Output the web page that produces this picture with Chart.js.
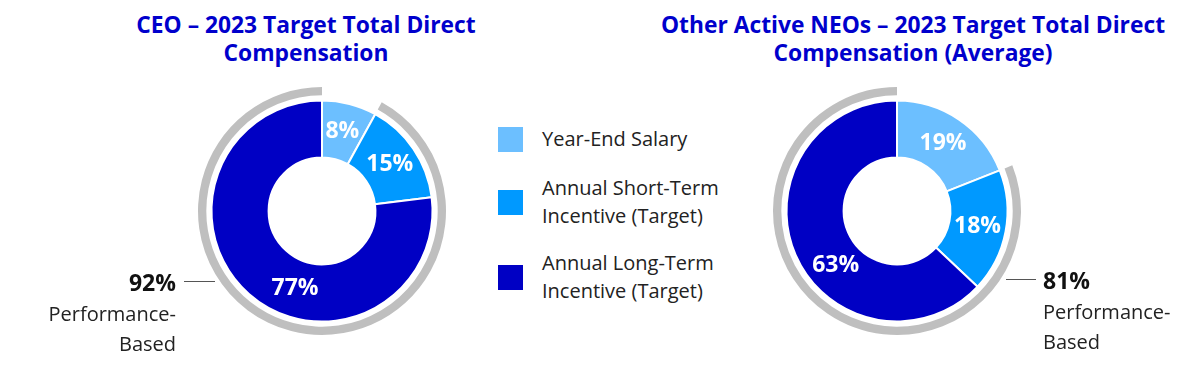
<!DOCTYPE html>
<html lang="en">
<head>
  <meta charset="UTF-8">
  <title>Target Total Direct Compensation</title>
  <script src="https://cdn.jsdelivr.net/npm/chart.js"></script>
  <style>
    body {
      margin: 0;
      width: 1182px;
      height: 372px;
      position: relative;
      background: #fff;
      font-family: "Open Sans", Arial, sans-serif;
      overflow: hidden;
    }
    .title {
      position: absolute;
      top: 11px;
      color: #0000cc;
      font-weight: bold;
      font-size: 22.8px;
      line-height: 28px;
      text-align: center;
      width: 560px;
      white-space: nowrap;
    }
    .chart-box {
      position: absolute;
      top: 81px;
      width: 260px;
      height: 260px;
    }
    .legend {
      position: absolute;
      left: 498px;
      top: 0;
      color: #222;
      font-size: 20px;
    }
    .legend .item {
      position: absolute;
      left: 0;
      white-space: nowrap;
    }
    .legend .swatch {
      position: absolute;
      left: 0;
      width: 25px;
      height: 25px;
    }
    .legend .text {
      position: absolute;
      left: 44px;
      line-height: 28px;
    }
    .perf {
      position: absolute;
      font-size: 20px;
      line-height: 30px;
      color: #222;
      white-space: nowrap;
    }
    .perf b { color: #111; font-size: 23px; }
    .leader {
      position: absolute;
      height: 0;
      border-top: 1.5px solid #555;
    }
  </style>
</head>
<body>
  <div class="title" style="left:26px">CEO – 2023 Target Total Direct<br>Compensation</div>
  <div class="title" style="left:633px">Other Active NEOs – 2023 Target Total Direct<br>Compensation (Average)</div>

  <div class="chart-box" style="left:192px"><canvas id="ceoChart"></canvas></div>
  <div class="chart-box" style="left:767px"><canvas id="neoChart"></canvas></div>

  <div class="legend" id="legend"></div>

  <div class="leader" style="left:184px; top:281px; width:31px"></div>
  <div class="perf" id="ceoPerf" style="right:1006px; top:267px; text-align:right"></div>

  <div class="leader" style="left:1006px; top:279px; width:30px"></div>
  <div class="perf" id="neoPerf" style="left:1043px; top:265px; text-align:left"></div>

  <script>
    // Categories and colours
    const categories = ["Year-End Salary", "Annual Short-Term\nIncentive (Target)", "Annual Long-Term\nIncentive (Target)"];
    const colors = ["#6cbfff", "#0099ff", "#0000c4"];

    // Values (percent of target total direct compensation)
    const ceoValues = [8, 15, 77];
    const neoValues = [19, 18, 63];

    // Performance-based share (short-term + long-term incentive)
    const ceoPerfBased = 92;
    const neoPerfBased = 81;

    const ringGray = "#bfbfbf";

    // Draws the white percentage labels inside the slices
    const sliceLabels = {
      id: "sliceLabels",
      afterDatasetsDraw(chart) {
        const ctx = chart.ctx;
        const meta = chart.getDatasetMeta(2);
        const values = chart.data.datasets[2].data;
        ctx.save();
        ctx.fillStyle = "#fff";
        ctx.font = "bold 23px 'Open Sans', Arial, sans-serif";
        ctx.textAlign = "center";
        ctx.textBaseline = "middle";
        meta.data.forEach((arc, i) => {
          const p = arc.getProps(["x", "y", "startAngle", "endAngle", "innerRadius", "outerRadius"], true);
          const span = p.endAngle - p.startAngle;
          const frac = span > Math.PI ? 0.42 : 0.5;
          const a = p.startAngle + span * frac;
          const r = (p.innerRadius + p.outerRadius) / 2;
          ctx.fillText(values[i] + "%", p.x + Math.cos(a) * r, p.y + Math.sin(a) * r);
        });
        ctx.restore();
      }
    };

    function makeChart(id, values, perfBased) {
      const ctx = document.getElementById(id).getContext("2d");
      return new Chart(ctx, {
        type: "doughnut",
        data: {
          labels: categories,
          datasets: [
            {
              // outer gray arc marking the performance-based part
              data: [100 - perfBased, perfBased],
              backgroundColor: ["rgba(0,0,0,0)", ringGray],
              borderWidth: 0,
              weight: 8
            },
            {
              // spacer ring
              data: [100],
              backgroundColor: ["rgba(0,0,0,0)"],
              borderWidth: 0,
              weight: 5
            },
            {
              data: values,
              backgroundColor: colors,
              borderColor: "#fff",
              borderWidth: 2,
              weight: 55
            }
          ]
        },
        options: {
          responsive: true,
          maintainAspectRatio: false,
          animation: false,
          radius: 124,
          cutout: 56,
          events: [],
          plugins: {
            legend: { display: false },
            tooltip: { enabled: false }
          }
        },
        plugins: [sliceLabels]
      });
    }

    makeChart("ceoChart", ceoValues, ceoPerfBased);
    makeChart("neoChart", neoValues, neoPerfBased);

    // Legend in the middle
    const legendTops = [127, 190, 265];
    const legend = document.getElementById("legend");
    categories.forEach((c, i) => {
      const item = document.createElement("div");
      item.className = "item";
      item.style.top = legendTops[i] + "px";
      const lines = c.split("\n");
      const textTop = lines.length > 1 ? -16 : -2;
      item.innerHTML =
        '<div class="swatch" style="background:' + colors[i] + '"></div>' +
        '<div class="text" style="top:' + textTop + 'px">' + lines.join("<br>") + "</div>";
      legend.appendChild(item);
    });

    document.getElementById("ceoPerf").innerHTML = "<b>" + ceoPerfBased + "%</b><br>Performance-<br>Based";
    document.getElementById("neoPerf").innerHTML = "<b>" + neoPerfBased + "%</b><br>Performance-<br>Based";
  </script>
</body>
</html>
